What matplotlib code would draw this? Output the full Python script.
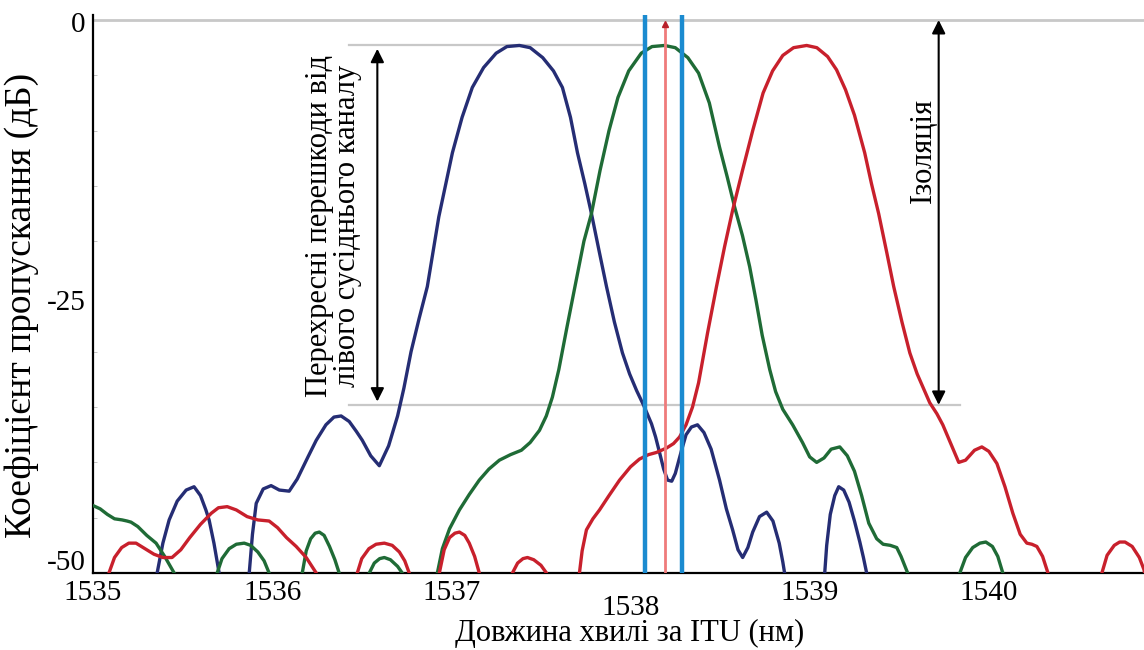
import numpy as np
import matplotlib
matplotlib.use("Agg")
import matplotlib.pyplot as plt

plt.rcParams['font.family'] = ['Liberation Serif', 'DejaVu Serif']

# Wavelength offsets from 1535 nm and transmission (dB)
blue_x = np.array([0.34, 0.358, 0.39, 0.425, 0.47, 0.52, 0.564, 0.60, 0.63, 0.648, 0.675, 0.704, 0.72,
                   0.855, 0.872, 0.89, 0.911, 0.95, 0.994, 1.04, 1.095, 1.14, 1.20, 1.246, 1.30, 1.345,
                   1.385, 1.43, 1.47, 1.503, 1.55, 1.598, 1.65, 1.70, 1.735, 1.775, 1.82, 1.866, 1.93,
                   2.006, 2.06, 2.117, 2.18, 2.25, 2.31, 2.380, 2.44, 2.51, 2.57, 2.620, 2.665, 2.704,
                   2.745, 2.782, 2.825, 2.866, 2.91, 2.955, 2.995, 3.034, 3.075, 3.117, 3.14, 3.162,
                   3.185, 3.207, 3.23, 3.25, 3.27, 3.285, 3.31, 3.34, 3.374, 3.41, 3.45, 3.497, 3.535,
                   3.570, 3.60, 3.626, 3.655, 3.682, 3.72, 3.760, 3.795, 3.83, 3.850, 3.860, 3.88,
                   4.07, 4.084, 4.095, 4.115, 4.14, 4.162, 4.19, 4.22, 4.25, 4.28, 4.30, 4.318, 4.33]) + 1535
blue_y = np.array([-53, -50, -47.3, -45.2, -43.5, -42.5, -42.2, -43.0, -44.3, -45.2, -47.3, -50, -53,
                   -53, -50, -46.5, -43.7, -42.4, -42.1, -42.5, -42.6, -41.5, -39.5, -38.0, -36.6, -35.9,
                   -35.8, -36.3, -37.2, -38.0, -39.4, -40.3, -38.5, -35.8, -33.3, -30.0, -27.0, -24.1, -17.8,
                   -12.0, -8.8, -6.1, -4.3, -3.0, -2.4, -2.3, -2.5, -3.4, -4.6, -6.1, -8.8, -12.0,
                   -14.8, -17.5, -20.9, -24.1, -27.3, -30.1, -32.0, -33.5, -34.9, -36.5, -37.7, -39.1,
                   -40.6, -41.6, -41.7, -41.0, -39.8, -38.9, -37.5, -36.8, -36.6, -37.3, -38.8, -41.6, -44.2,
                   -46.1, -47.9, -48.6, -47.7, -46.3, -44.9, -44.5, -45.3, -47.3, -49.0, -50, -53,
                   -53, -50, -47.5, -44.7, -43.0, -42.2, -42.5, -43.6, -45.3, -47.2, -48.6, -50, -53])

green_x = np.array([0.0, 0.04, 0.08, 0.12, 0.162, 0.19, 0.212, 0.25, 0.30, 0.352, 0.40, 0.453, 0.47,
                    0.68, 0.693, 0.72, 0.76, 0.80, 0.844, 0.88, 0.92, 0.955, 0.983, 1.0,
                    1.155, 1.168, 1.19, 1.215, 1.24, 1.263, 1.29, 1.32, 1.35, 1.374, 1.385,
                    1.53, 1.542, 1.57, 1.60, 1.626, 1.66, 1.70, 1.726, 1.74,
                    1.91, 1.922, 1.95, 1.99, 2.045, 2.10, 2.156, 2.21, 2.268, 2.33, 2.391, 2.44, 2.492,
                    2.53, 2.564, 2.60, 2.645, 2.69, 2.74, 2.782, 2.83, 2.88, 2.93, 2.99, 3.06, 3.12,
                    3.19, 3.25, 3.32, 3.38, 3.44, 3.497, 3.54, 3.581, 3.625, 3.665, 3.70, 3.735, 3.777,
                    3.81, 3.85, 3.905, 3.96, 4.00, 4.039, 4.08, 4.12, 4.168, 4.21, 4.25, 4.29, 4.33,
                    4.374, 4.41, 4.45, 4.486, 4.51, 4.547, 4.56,
                    4.825, 4.838, 4.87, 4.91, 4.95, 4.983, 5.02, 5.05, 5.078, 5.09]) + 1535
green_y = np.array([-43.9, -44.2, -44.7, -45.1, -45.2, -45.3, -45.4, -45.8, -46.6, -47.3, -48.5, -50, -53,
                    -53, -50, -48.7, -47.8, -47.4, -47.3, -47.5, -48.1, -48.9, -50, -53,
                    -53, -50, -48.0, -46.9, -46.4, -46.3, -46.6, -47.6, -48.8, -50, -53,
                    -53, -50, -49.1, -48.7, -48.6, -48.8, -49.4, -50, -53,
                    -53, -50, -47.8, -46.0, -44.3, -42.9, -41.6, -40.6, -39.8, -39.3, -38.9, -38.2, -37.1,
                    -35.8, -34.1, -31.6, -27.8, -24.1, -20.0, -17.5, -13.6, -10.0, -7.0, -4.6, -3.0, -2.4,
                    -2.3, -2.5, -3.4, -4.8, -7.5, -11.5, -14.2, -16.9, -19.5, -22.3, -25.3, -28.5, -31.6,
                    -33.6, -35.2, -36.6, -38.2, -39.5, -40.0, -39.6, -38.8, -38.6, -39.4, -40.8, -43.0, -45.5,
                    -46.9, -47.4, -47.5, -47.7, -48.5, -50, -53,
                    -53, -50, -48.6, -47.7, -47.3, -47.2, -47.6, -48.5, -50, -53])

red_x = np.array([0.075, 0.089, 0.12, 0.16, 0.20, 0.240, 0.29, 0.34, 0.39, 0.441, 0.49, 0.54, 0.60,
                  0.66, 0.70, 0.749, 0.80, 0.86, 0.92, 0.983, 1.03, 1.08, 1.134, 1.19, 1.246, 1.26,
                  1.46, 1.475, 1.50, 1.54, 1.58, 1.626, 1.67, 1.71, 1.74, 1.765, 1.78,
                  1.92, 1.933, 1.96, 1.99, 2.02, 2.045, 2.075, 2.10, 2.13, 2.156, 2.17,
                  2.33, 2.341, 2.37, 2.40, 2.425, 2.46, 2.50, 2.531, 2.545,
                  2.70, 2.715, 2.73, 2.754, 2.79, 2.827, 2.88, 2.939, 3.00, 3.050, 3.10, 3.145, 3.201,
                  3.24, 3.274, 3.31, 3.346, 3.38, 3.43, 3.480, 3.525, 3.570, 3.625, 3.682, 3.74, 3.793,
                  3.85, 3.91, 3.983, 4.04, 4.10, 4.15, 4.20, 4.25, 4.307, 4.345, 4.385, 4.43, 4.469,
                  4.515, 4.559, 4.60, 4.640, 4.670, 4.71, 4.743, 4.79, 4.832, 4.87, 4.92, 4.961, 5.00,
                  5.045, 5.09, 5.134, 5.175, 5.212, 5.24, 5.268, 5.30, 5.330, 5.345,
                  5.615, 5.631, 5.66, 5.70, 5.73, 5.760, 5.80, 5.84, 5.866, 5.88]) + 1535
red_y = np.array([-53, -50, -48.6, -47.7, -47.3, -47.3, -47.8, -48.3, -48.6, -48.6, -47.9, -46.8, -45.6,
                  -44.6, -44.1, -44.0, -44.3, -44.9, -45.2, -45.3, -45.9, -46.8, -47.6, -48.6, -50, -53,
                  -53, -50, -48.7, -47.8, -47.4, -47.3, -47.5, -48.1, -48.9, -50, -53,
                  -53, -50, -47.9, -46.8, -46.4, -46.3, -46.6, -47.3, -48.5, -50, -53,
                  -53, -50, -49.1, -48.7, -48.6, -48.8, -49.3, -50, -53,
                  -53, -50, -48.0, -46.1, -45.1, -44.3, -43.0, -41.6, -40.4, -39.7, -39.3, -39.1, -38.7,
                  -38.3, -37.7, -36.6, -35.0, -32.8, -28.3, -24.1, -20.5, -17.2, -13.6, -10.0, -6.6, -4.6,
                  -3.2, -2.5, -2.3, -2.5, -3.3, -4.5, -6.3, -8.6, -12.0, -14.8, -17.5, -21.0, -24.1,
                  -27.3, -30.1, -32.0, -33.5, -34.6, -35.6, -36.6, -38.4, -40.0, -39.8, -38.9, -38.6, -39.0,
                  -40.1, -42.2, -44.6, -46.5, -47.3, -47.4, -47.6, -48.5, -50, -53,
                  -53, -50, -48.4, -47.5, -47.2, -47.2, -47.6, -48.6, -49.7, -51])

channel_center = 1538.19
passband_edges = [1538.08, 1538.29]
peak_level = -2.3
crosstalk_level = -34.8

tick_values = [1535, 1536, 1537, 1538, 1539, 1540]
tick_labels = ["1535", "1536", "1537", "1538", "1539", "1540"]
ytick_values = [0, -25, -50]
ytick_label_pos = [-0.45, -25.6, -49.1]

fig = plt.figure(figsize=(11.44, 6.5), dpi=100)
ax = fig.add_axes([93 / 1144, 1 - 573 / 650, 1 - 93 / 1144, (573 - 14.5) / 650])
ax.set_xlim(1535.0, 1540.866)
ax.set_ylim(-50, 0.5)

# reference grey lines
ax.axhline(0, color='#c8c8c8', lw=2, zorder=1)
ax.plot([1536.43, 1538.08], [peak_level, peak_level], color='#c8c8c8', lw=1.6, zorder=1)
ax.plot([1536.43, 1539.84], [crosstalk_level, crosstalk_level], color='#c8c8c8', lw=1.6, zorder=1)

ax.plot(blue_x, blue_y, color='#252d74', lw=2.4, solid_joinstyle='round', zorder=3)
ax.plot(green_x, green_y, color='#1f6b36', lw=2.4, solid_joinstyle='round', zorder=3)
ax.plot(red_x, red_y, color='#c8202c', lw=2.4, solid_joinstyle='round', zorder=3)

for xe in passband_edges:
    ax.axvline(xe, color='#1b8bd0', lw=3.2, zorder=4)
ax.plot([channel_center, channel_center], [-50, -0.6], color='#ef7b7b', lw=2.0, zorder=4)
ax.plot([channel_center], [-0.4], marker='^', color='#b8202a', markersize=5, zorder=5)

# double arrows
ax.annotate('', xy=(1536.587, -2.6), xytext=(1536.587, -34.5),
            arrowprops=dict(arrowstyle='<|-|>', color='black', lw=1.5, mutation_scale=20,
                            shrinkA=0, shrinkB=0), zorder=6)
ax.annotate('', xy=(1539.72, 0.0), xytext=(1539.72, -34.8),
            arrowprops=dict(arrowstyle='<|-|>', color='black', lw=1.5, mutation_scale=20,
                            shrinkA=0, shrinkB=0), zorder=6)

ax.text(1536.34, -18.6, "Перехресні перешкоди від\nлівого сусіднього каналу",
        rotation=90, ha='center', va='center', fontsize=22, linespacing=0.95)
ax.text(1539.637, -11.8, "Ізоляція", rotation=90, ha='center', va='center', fontsize=22)

for sp in ['top', 'right']:
    ax.spines[sp].set_visible(False)
for sp in ['left', 'bottom']:
    ax.spines[sp].set_linewidth(1.6)
    ax.spines[sp].set_color('black')

ax.set_yticks(ytick_values)
ax.set_yticklabels([])
ax.set_yticks(np.arange(-45, 0, 5), minor=True)
ax.tick_params(axis='y', which='major', length=0)
ax.tick_params(axis='y', which='minor', direction='in', length=3, color='#bbbbbb')
ytr = ax.get_yaxis_transform()
for v, yp in zip(ytick_values, ytick_label_pos):
    ax.text(-0.007, yp, str(v), transform=ytr, ha='right', va='center', fontsize=21)

ax.set_xticks(tick_values)
ax.set_xticklabels([])
ax.tick_params(axis='x', length=0)
xtr = ax.get_xaxis_transform()
for v, lab in zip(tick_values, tick_labels):
    dy = -0.062 if v == 1538 else -0.036
    ax.text(v, dy, lab, transform=xtr, ha='center', va='center', fontsize=21)

fig.text(630 / 1144, 1 - 633 / 650, "Довжина хвилі за ITU (нм)", ha='center', va='center', fontsize=22)
fig.text(22 / 1144, 1 - 305 / 650, "Коефіцієнт пропускання (дБ)", rotation=90,
         ha='center', va='center', fontsize=27)

fig.savefig("out.png", dpi=100)
